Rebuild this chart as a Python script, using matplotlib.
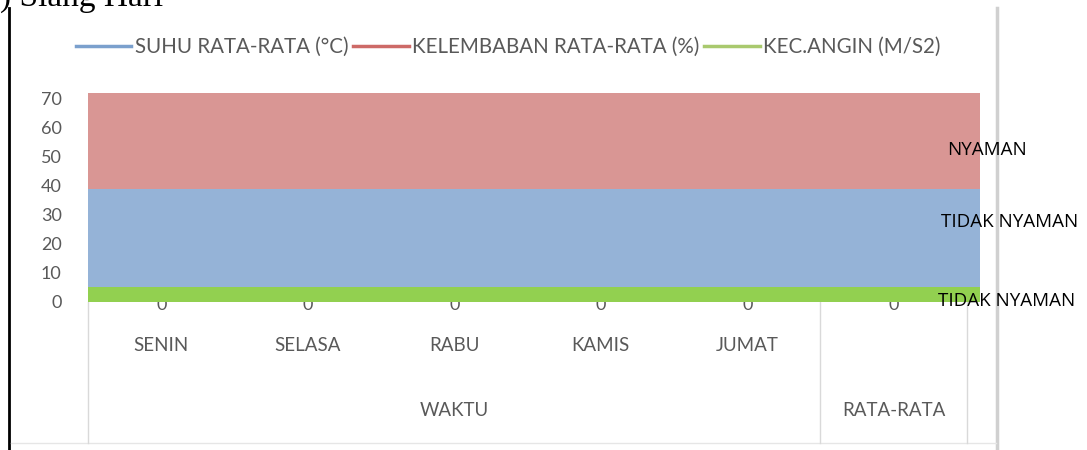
import numpy as np
import matplotlib.pyplot as plt
from matplotlib.lines import Line2D

# ------------------------------------------------------------------ data
days = ['SENIN', 'SELASA', 'RABU', 'KAMIS', 'JUMAT', '']
groups = ['WAKTU', 'RATA-RATA']
group_sizes = [5, 1]
angin = [5, 5, 5, 5, 5, 5]          # kec. angin (m/s2)
suhu = [34, 34, 34, 34, 34, 34]     # suhu rata-rata (C)
lembab = [33, 33, 33, 33, 33, 33]   # kelembaban rata-rata (%)
point_labels = [0, 0, 0, 0, 0, 0]
series_names = ['SUHU RATA-RATA (°C)', 'KELEMBABAN RATA-RATA (%)', 'KEC.ANGIN (M/S2)']
side_labels = ['NYAMAN', 'TIDAK NYAMAN', 'TIDAK NYAMAN']

fill_cols = ['#92d050', '#95b3d7', '#d99694']
line_cols = ['#7ba0cd', '#cd6a67', '#a9c96e']
grey = '#595959'
font = ['Lato', 'DejaVu Sans']

W, H = 1087, 450
fig = plt.figure(figsize=(W / 100, H / 100), dpi=100)
ax = fig.add_axes([88 / W, 148 / H, 892 / W, 209 / H])
ax.patch.set_alpha(0)

n = len(days)
x = np.arange(n)
xmax = 5.589
edges = np.append(x - 0.5, xmax)

# stacked areas, bottom -> top
base = np.zeros(n + 1)
for vals, col in zip([angin, suhu, lembab], fill_cols):
    v = np.append(vals, vals[-1])
    ax.fill_between(edges, base, base + v, step='post', color=col, lw=0, zorder=2)
    base = base + v

ax.set_xlim(-0.5, xmax)
ax.set_ylim(0, 72)
ax.set_yticks(range(0, 71, 10))
ax.set_yticklabels([str(t) for t in range(0, 71, 10)], family=font, fontsize=13, color=grey)
ax.tick_params(axis='y', length=0, pad=19)
ax.set_xticks([])
for s in ax.spines.values():
    s.set_visible(False)

# data labels (half hidden under the area)
for xi, lab in zip(x, point_labels):
    ax.text(xi, -0.9, str(lab), ha='center', va='center', fontsize=13,
            color=grey, family=font, zorder=1, clip_on=False)

# two-level category axis
for xi, d in zip(x, days):
    ax.text(xi, -15, d, ha='center', va='center', fontsize=13.5, color=grey,
            family=font, clip_on=False)
start = 0
bounds = [-0.5]
for g, sz in zip(groups, group_sizes):
    mid = start + (sz - 1) / 2
    ax.text(mid, -37.5, g, ha='center', va='center', fontsize=13.5, color=grey,
            family=font, clip_on=False)
    start += sz
    bounds.append(start - 0.5)
for b in bounds:
    ax.plot([b, b], [0, -48.5], color='#d9d9d9', lw=1, clip_on=False, zorder=1)

# comfort labels on the right
for xv, yv, lab in zip([5.64, 5.79, 5.77], [52.4, 27.6, 0.3], side_labels):
    ax.text(xv, yv, lab, ha='center', va='center', fontsize=13.5,
            color='black', family=['Open Sans', 'DejaVu Sans'], clip_on=False, zorder=5)

# legend
handles = [Line2D([], [], color=c, lw=2.5) for c in line_cols]
fig.legend(handles, series_names, loc='center', bbox_to_anchor=(508 / W, 1 - 47 / H),
           ncol=3, frameon=False, handlelength=2.7, handletextpad=0.15,
           columnspacing=0.25, prop={'family': font, 'size': 14.8}, labelcolor=grey)

# page decorations (chart frame and heading fragment), kept under the axes
fig.add_artist(Line2D([9 / W, 9 / W], [0, 1 - 8 / H], color='black', lw=2, zorder=-1))
fig.add_artist(Line2D([997 / W, 997 / W], [0, 1 - 8 / H], color='#d0d0d0', lw=2.5, zorder=-1))
fig.add_artist(Line2D([11 / W, 996 / W], [1 - 443 / H, 1 - 443 / H], color='#e6e6e6',
                      lw=1, zorder=-1))
fig.text(0, 1 - 6 / H, ') Siang Hari', ha='left', va='baseline', fontsize=24,
         family=['Liberation Serif', 'DejaVu Serif'], color='black')

fig.savefig('out.png', dpi=100)
